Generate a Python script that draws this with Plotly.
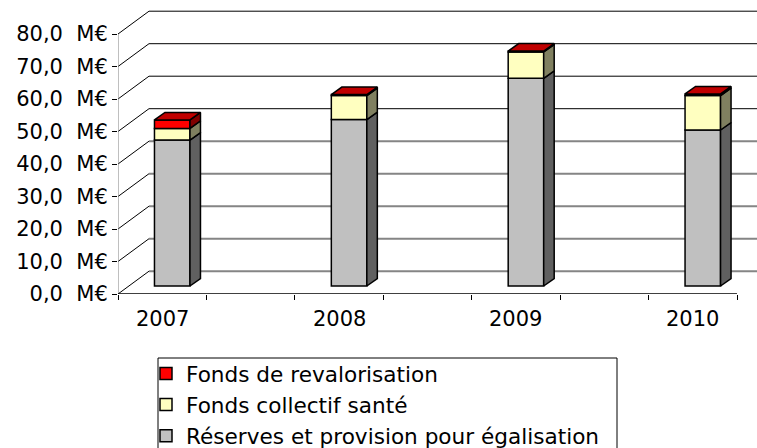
import plotly.graph_objects as go

# ---- data ----
categories = ["2007", "2008", "2009", "2010"]
reserves = [44.9, 51.2, 63.9, 48.0]          # Réserves et provision pour égalisation
sante = [3.6, 7.4, 8.1, 10.6]                # Fonds collectif santé
revalo = [2.6, 0.3, 0.3, 0.5]                # Fonds de revalorisation
y_ticks = [0, 10, 20, 30, 40, 50, 60, 70, 80]

series = [
    ("Réserves et provision pour égalisation", reserves, "#C0C0C0", "#606060", "#A0A0A0"),
    ("Fonds collectif santé", sante, "#FFFFC0", "#808060", "#E0E0A0"),
    ("Fonds de revalorisation", revalo, "#FF0000", "#800000", "#C00000"),
]

# ---- geometry (pixel-based layout constants) ----
W, H = 757, 448
ML, MR, MT, MB = 118, 0, 5, 154
PX_X = 88.43          # px per category slot
PX_Y = 3.25           # px per M€
xmin = -0.5
xmax = xmin + (W - ML - MR) / PX_X
ymax = (H - MT - MB) / PX_Y

WX, WY = 31 / PX_X, 22.8 / PX_Y       # back wall depth
BX, BY = 10 / PX_X, 8 / PX_Y          # bar plane offset
DX, DY = 10.5 / PX_X, 7.5 / PX_Y      # bar depth
BW = 35.5 / PX_X                       # bar width

slots = [2 * i for i in range(len(categories))]
nslots = 2 * (len(categories) - 1) + 1

FONT = "DejaVu Sans, Verdana, sans-serif"

fig = go.Figure()

cum = [0.0] * len(categories)
side_polys = []
for name, vals, front, side, top in series:
    bases = [BY + c for c in cum]
    fig.add_trace(go.Bar(
        x=[s + BX for s in slots], y=vals, base=bases, width=BW, name=name,
        marker=dict(color=front, line=dict(color="black", width=1.5)),
        hoverinfo="skip",
    ))
    xs, ys = [], []
    for i, s in enumerate(slots):
        xr = s + BX + BW / 2
        b = bases[i]
        t = bases[i] + vals[i]
        xs += [xr, xr + DX, xr + DX, xr, xr, None]
        ys += [b, b + DY, t + DY, t, b, None]
    side_polys.append((xs, ys, side))
    cum = [c + v for c, v in zip(cum, vals)]

for xs, ys, col in side_polys:
    fig.add_trace(go.Scatter(x=xs, y=ys, mode="lines", fill="toself", fillcolor=col,
                             line=dict(color="black", width=1.5), showlegend=False,
                             hoverinfo="skip"))

# top faces (top series colour, darker)
top_col = series[-1][4]
xs, ys = [], []
for i, s in enumerate(slots):
    xl = s + BX - BW / 2
    xr = s + BX + BW / 2
    T = BY + cum[i]
    xs += [xl, xr, xr + DX, xl + DX, xl, None]
    ys += [T, T, T + DY, T + DY, T, None]
fig.add_trace(go.Scatter(x=xs, y=ys, mode="lines", fill="toself", fillcolor=top_col,
                         line=dict(color="black", width=1.5), showlegend=False,
                         hoverinfo="skip"))

# ---- walls / gridlines ----
shapes = []
for v in y_ticks:
    dark = v >= 50
    shapes.append(dict(type="line", xref="x", yref="y", x0=xmin + WX, x1=xmax,
                       y0=v + WY, y1=v + WY, layer="below",
                       line=dict(color="black" if dark else "#858585", width=1 if dark else 2)))
    shapes.append(dict(type="line", xref="x", yref="y", x0=xmin, x1=xmin + WX,
                       y0=v, y1=v + WY, layer="below",
                       line=dict(color="black", width=1)))
shapes.append(dict(type="line", xref="x", yref="y", x0=xmin, x1=xmin, y0=0, y1=y_ticks[-1],
                   layer="below", line=dict(color="#808080", width=1)))
shapes.append(dict(type="line", xref="x", yref="y", x0=xmin, x1=nslots - 0.5, y0=0, y1=0,
                   layer="above", line=dict(color="black", width=1.5)))
# legend frame
shapes.append(dict(type="rect", xref="paper", yref="paper",
                   x0=(158 - ML) / (W - ML - MR), x1=(617 - ML) / (W - ML - MR),
                   y0=(H - MB - 358) / (H - MT - MB), y1=-1.0,
                   line=dict(color="black", width=1), fillcolor="rgba(0,0,0,0)"))

annotations = [dict(x=s, y=0, xref="x", yref="y", text=c, showarrow=False,
                    yanchor="top", yshift=-11, font=dict(family=FONT, size=21, color="black"))
               for s, c in zip(slots, categories)]

tick_text = [f"{v:.1f}".replace(".", ",") + "\u00a0\u00a0M€" for v in y_ticks]

fig.update_layout(
    width=W, height=H,
    margin=dict(l=ML, r=MR, t=MT, b=MB, pad=0, autoexpand=False),
    paper_bgcolor="white", plot_bgcolor="white",
    barmode="overlay", bargap=0,
    font=dict(family=FONT, size=21, color="black"),
    showlegend=True,
    legend=dict(xref="container", yref="container",
                x=146 / W, y=1 - 353 / H,
                xanchor="left", yanchor="top", traceorder="reversed",
                bgcolor="rgba(0,0,0,0)", borderwidth=0, tracegroupgap=0,
                font=dict(family=FONT, size=21.6, color="black")),
    xaxis=dict(range=[xmin, xmax], showgrid=False, zeroline=False, showline=False,
               automargin=False, fixedrange=True,
               tickmode="array", tickvals=[k - 0.5 for k in range(nslots + 1)],
               showticklabels=False, ticks="outside", ticklen=5, tickcolor="black", tickwidth=1),
    yaxis=dict(range=[0, ymax], showgrid=False, zeroline=False, showline=False,
               automargin=False, fixedrange=True,
               tickmode="array", tickvals=y_ticks, ticktext=tick_text,
               ticks="outside", ticklen=5, tickcolor="black", tickwidth=1,
               tickfont=dict(family=FONT, size=21, color="black")),
    shapes=shapes,
    annotations=annotations,
)

fig.write_html("out.html",
               config={"displayModeBar": False, "staticPlot": True},
               post_script="document.body.style.margin='0';document.body.style.overflow='hidden';")
